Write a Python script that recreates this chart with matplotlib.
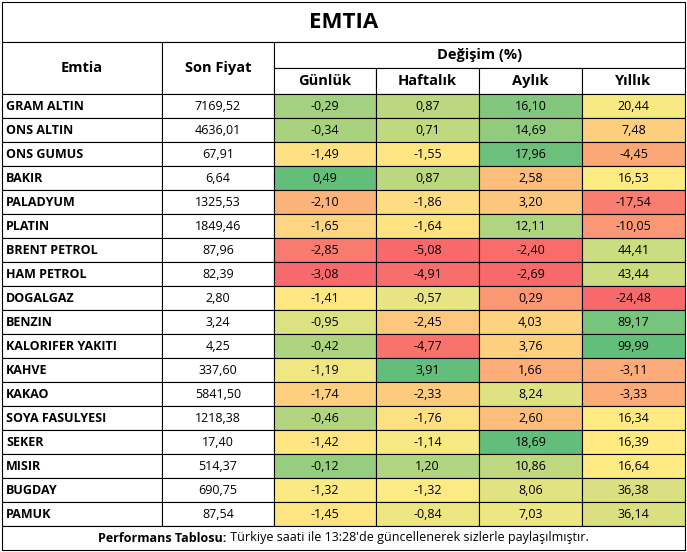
import matplotlib
matplotlib.use("Agg")
import matplotlib.pyplot as plt
from matplotlib.patches import Rectangle
from matplotlib.colors import LinearSegmentedColormap
import numpy as np

names = ["GRAM ALTIN","ONS ALTIN","ONS GUMUS","BAKIR","PALADYUM","PLATIN","BRENT PETROL","HAM PETROL",
         "DOGALGAZ","BENZIN","KALORIFER YAKITI","KAHVE","KAKAO","SOYA FASULYESI","SEKER","MISIR","BUGDAY","PAMUK"]
prices = ["7169,52","4636,01","67,91","6,64","1325,53","1849,46","87,96","82,39","2,80","3,24","4,25",
          "337,60","5841,50","1218,38","17,40","514,37","690,75","87,54"]
gunluk = [-0.29,-0.34,-1.49,0.49,-2.10,-1.65,-2.85,-3.08,-1.41,-0.95,-0.42,-1.19,-1.74,-0.46,-1.42,-0.12,-1.32,-1.45]
haftalik = [0.87,0.71,-1.55,0.87,-1.86,-1.64,-5.08,-4.91,-0.57,-2.45,-4.77,3.91,-2.33,-1.76,-1.14,1.20,-1.32,-0.84]
aylik = [16.10,14.69,17.96,2.58,3.20,12.11,-2.40,-2.69,0.29,4.03,3.76,1.66,8.24,2.60,18.69,10.86,8.06,7.03]
yillik = [20.44,7.48,-4.45,16.53,-17.54,-10.05,44.41,43.44,-24.48,89.17,99.99,-3.11,-3.33,16.34,16.39,16.64,36.38,36.14]
col_heads = ["Günlük","Haftalık","Aylık","Yıllık"]

W, H = 687, 552
fig = plt.figure(figsize=(W/100, H/100), dpi=100)
ax = fig.add_axes([0,0,1,1])
ax.set_xlim(0, W); ax.set_ylim(H, 0); ax.axis("off")
FONT = "Open Sans"
cmap = LinearSegmentedColormap.from_list("x", ["#F8696B","#FFEB84","#63BE7B"])

xs = [2,162,274,376,479,582,685]
y_title, y_h1, y_h2, y_d = 2, 42, 68, 94
rh = 24
lw = 0.8
FS = 9

def rect(x0,y0,x1,y1,fc="white"):
    ax.add_patch(Rectangle((x0,y0),x1-x0,y1-y0,facecolor=fc,edgecolor="black",lw=lw))

rect(xs[0],y_title,xs[-1],y_h1)
ax.text((xs[0]+xs[-1])/2,(y_title+y_h1)/2+1,"EMTIA",ha="center",va="center",fontsize=16,fontweight="bold",family=FONT)
rect(xs[0],y_h1,xs[1],y_d); rect(xs[1],y_h1,xs[2],y_d); rect(xs[2],y_h1,xs[-1],y_h2)
ax.text((xs[0]+xs[1])/2,(y_h1+y_d)/2,"Emtia",ha="center",va="center",fontsize=10.5,fontweight="bold",family=FONT)
ax.text((xs[1]+xs[2])/2,(y_h1+y_d)/2,"Son Fiyat",ha="center",va="center",fontsize=10.5,fontweight="bold",family=FONT)
ax.text((xs[2]+xs[-1])/2,(y_h1+y_h2)/2,"Değişim (%)",ha="center",va="center",fontsize=10.5,fontweight="bold",family=FONT)
for j,h in enumerate(col_heads):
    rect(xs[2+j],y_h2,xs[3+j],y_d)
    ax.text((xs[2+j]+xs[3+j])/2,(y_h2+y_d)/2,h,ha="center",va="center",fontsize=10.5,fontweight="bold",family=FONT)

def colors(vals):
    v = np.array(vals); lo, mid, hi = v.min(), np.percentile(v,50), v.max()
    out = []
    for x in v:
        t = 0.5*(x-lo)/(mid-lo) if x <= mid else 0.5+0.5*(x-mid)/(hi-mid)
        out.append(cmap(t))
    return out

cols = [gunluk, haftalik, aylik, yillik]
ccols = [colors(c) for c in cols]
fmt = lambda v: f"{v:.2f}".replace(".", ",")
for i in range(len(names)):
    y0 = y_d + i*rh; y1 = y0 + rh; yc = (y0+y1)/2
    rect(xs[0],y0,xs[1],y1); rect(xs[1],y0,xs[2],y1)
    ax.text(xs[0]+4,yc,names[i],ha="left",va="center",fontsize=FS,fontweight="bold",family=FONT)
    ax.text((xs[1]+xs[2])/2,yc,prices[i],ha="center",va="center",fontsize=FS,family=FONT)
    for j in range(4):
        rect(xs[2+j],y0,xs[3+j],y1,ccols[j][i])
        ax.text((xs[2+j]+xs[3+j])/2,yc,fmt(cols[j][i]),ha="center",va="center",fontsize=FS,family=FONT)

yf0 = y_d + len(names)*rh; yf1 = 550
rect(xs[0],yf0,xs[-1],yf1)
t1 = ax.text(0,(yf0+yf1)/2,"Performans Tablosu:",ha="left",va="center",fontsize=FS,fontweight="bold",family=FONT)
t2 = ax.text(0,(yf0+yf1)/2," Türkiye saati ile 13:28'de güncellenerek sizlerle paylaşılmıştır.",ha="left",va="center",fontsize=FS,family=FONT)
r = fig.canvas.get_renderer()
w1 = t1.get_window_extent(r).width; w2 = t2.get_window_extent(r).width
start = (xs[0]+xs[-1])/2 - (w1+w2)/2
t1.set_x(start); t2.set_x(start+w1)
fig.savefig("out.png", dpi=100)
